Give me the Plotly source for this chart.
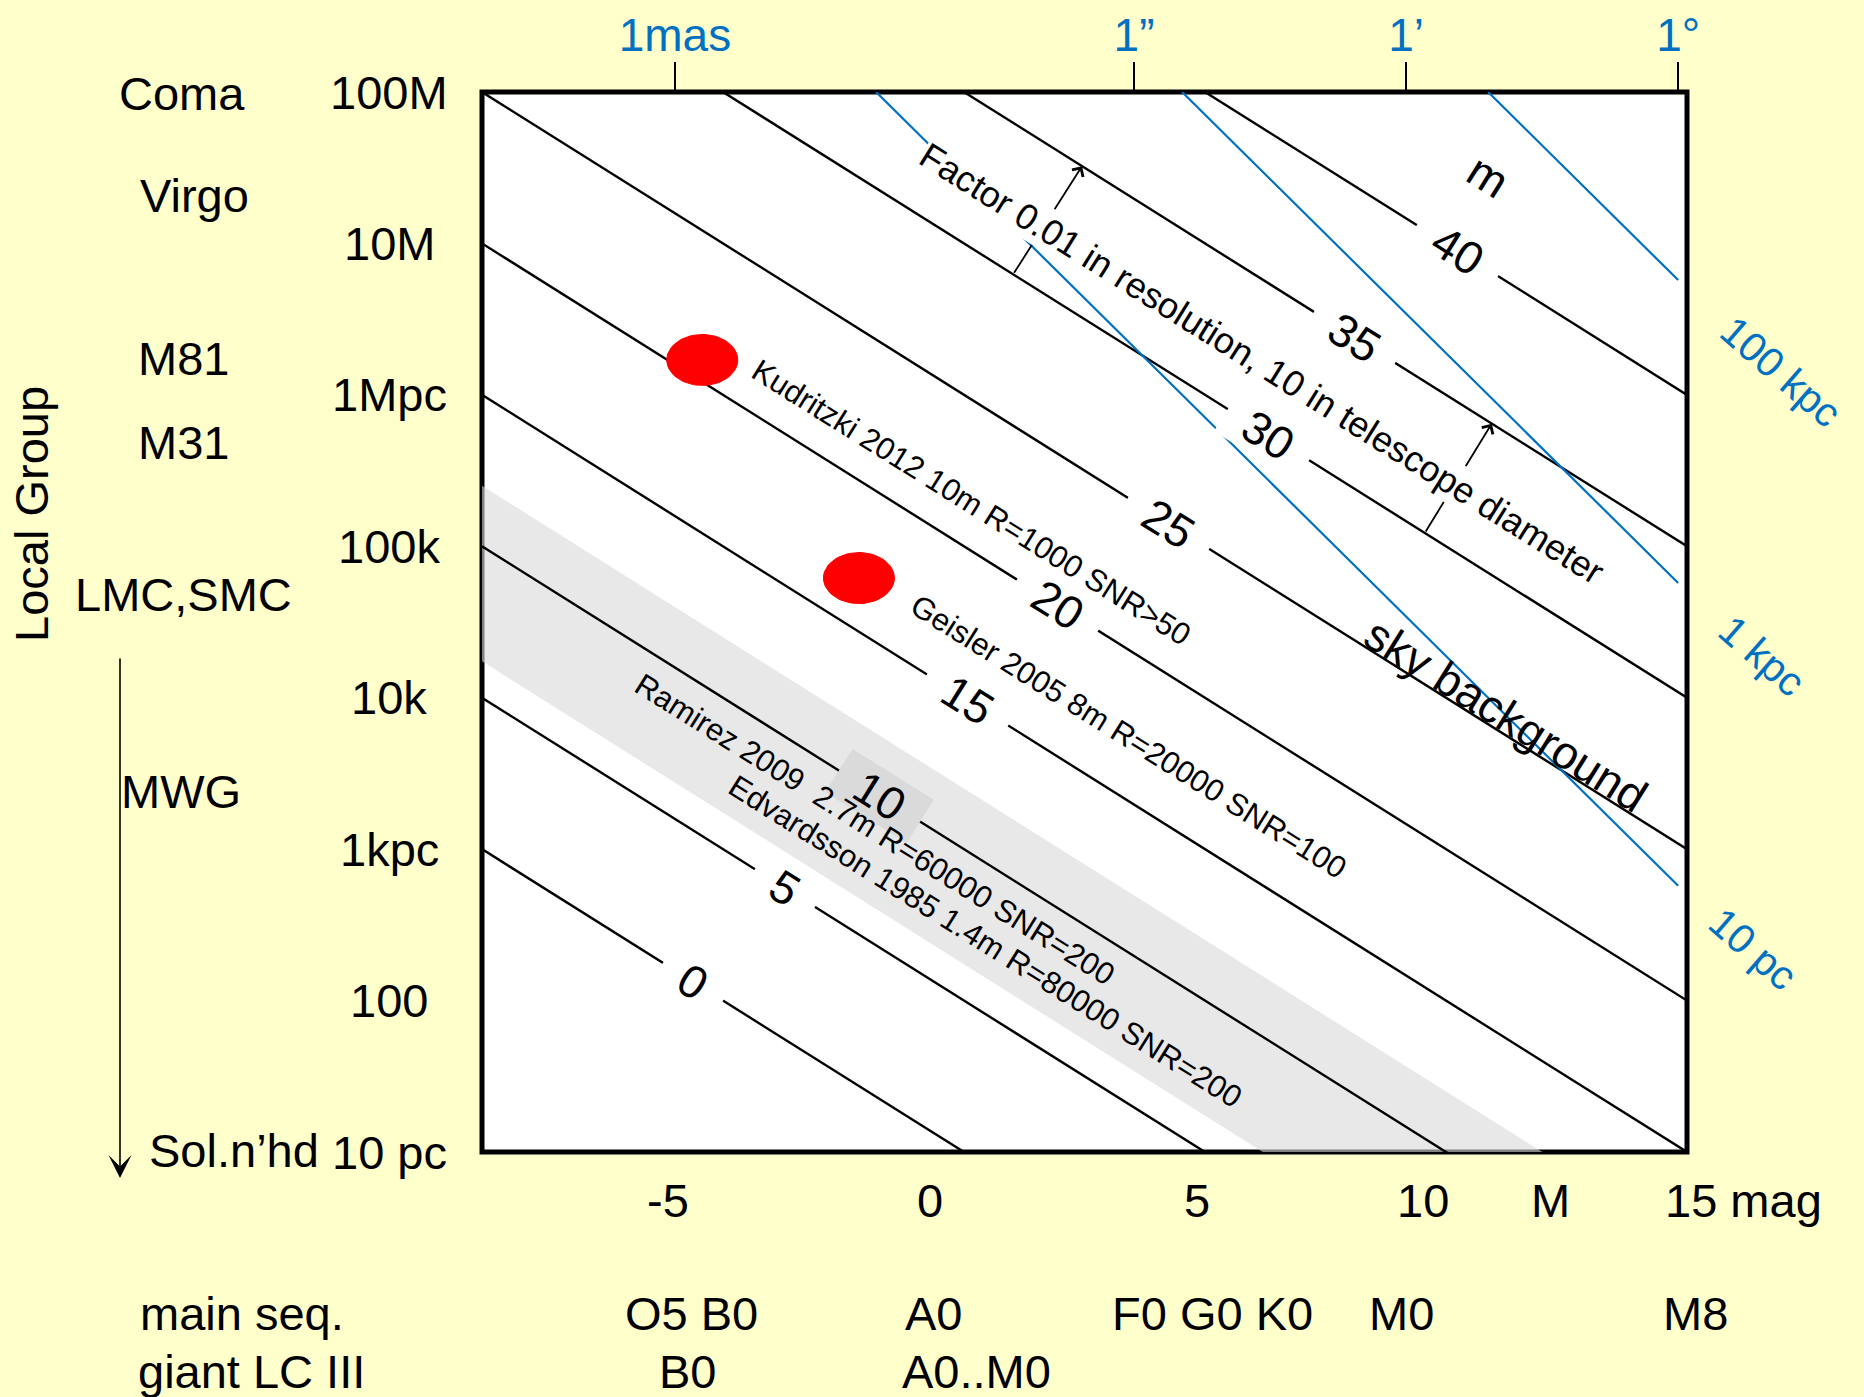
import numpy as np
import plotly.graph_objects as go

# ---------------- figure geometry (pixels) ----------------
W, H = 1864, 1397
BOX_L, BOX_R, BOX_T, BOX_B = 482, 1687, 92, 1152
PW, PH = BOX_R - BOX_L, BOX_B - BOX_T

FONT = "Liberation Sans, Arial, sans-serif"
BLUE = "#0070C0"
PAPER = "#FFFFCC"
ANGLE = 32  # text angle along the iso-magnitude lines

# ---------------- axes ----------------
M_RANGE = [-10, 15]               # absolute magnitude M across the box
LOGD_RANGE = [1, 8]               # log10(distance / pc)
LOGTHETA_RANGE = [-4.261, 3.614]  # log10(angle / arcsec), top scale
ARCSEC_PER_RAD = 206265.0

# ---------------- data ----------------
m_values = [0, 5, 10, 15, 20, 25, 30, 35, 40]          # apparent magnitude lines
m_label_M = [-5.62, -3.72, -1.75, 0.08, 1.95, 4.25, 6.31, 8.11, 10.23]

dist_ticks = [1e1, 1e2, 1e3, 1e4, 1e5, 1e6, 1e7, 1e8]
dist_labels = ["10 pc", "100", "1kpc", "10k", "100k", "1Mpc", "10M", "100M"]

angle_ticks = [1e-3, 1.0, 60.0, 3600.0]
angle_labels = ["1mas", "1”", "1’", "1°"]

size_pc = [10, 1e3, 1e5]                               # linear sizes (blue lines)
size_labels = ["10 pc", "1 kpc", "100 kpc"]
blue_end_arcsec = 3600.0

star_M = [-5.43, -2.18]
star_d = [1.70e6, 6.17e4]
star_labels = ["Kudritzki 2012 10m R=1000 SNR>50", "Geisler 2005 8m R=20000 SNR=100"]

band_m = [6.2, 12.0]
band_labels = ["Ramirez 2009  2.7m R=60000 SNR=200",
               "Edvardsson 1985 1.4m R=80000 SNR=200"]

arrow_m = (30, 35)                                     # factor 10 in diameter = 5 mag
arrow_M = [(1.02, 2.45), (9.56, 10.95)]

mag_labels = ["-5", "0", "5", "10", "M", "15 mag"]
spec_main = ["O5 B0", "A0", "F0 G0 K0", "M0", "M8"]
spec_giant = ["B0", "A0..M0"]
systems = ["Coma", "Virgo", "M81", "M31", "LMC,SMC", "MWG", "Sol.n’hd"]

# ---------------- text placement (pixels) ----------------
mag_label_x = [668, 930, 1197, 1423, 1550, 1743]
mag_label_y = 1200
spec_main_x = [691, 934, 1212, 1401, 1695]
spec_giant_x = [688, 976]
spec_rows_y = [1313, 1371]
system_xy = [(182, 93), (194, 195), (183, 358), (183, 442),
             (183, 594), (181, 791), (234, 1150)]
dist_label_x = 389
star_label_xy = [(971, 503), (1128, 737)]
band_label_xy = [(875, 829), (985, 942)]
size_label_xy = [(1753, 949), (1762, 656), (1781, 372)]


def dist(m, M):
    """distance [pc] from distance modulus m - M"""
    return 10 ** (1 + (np.asarray(m, float) - np.asarray(M, float)) / 5)


def paper(x, y):
    return (x - BOX_L) / PW, (BOX_B - y) / PH


fig = go.Figure()

# grey survey band between two apparent magnitudes
Mb = np.array([-12.0, 17.0])
fig.add_trace(go.Scatter(
    x=[Mb[0], Mb[1], Mb[1], Mb[0], Mb[0]],
    y=[dist(band_m[1], Mb[0]), dist(band_m[1], Mb[1]),
       dist(band_m[0], Mb[1]), dist(band_m[0], Mb[0]), dist(band_m[1], Mb[0])],
    fill="toself", fillcolor="rgba(217,217,217,0.6)",
    line=dict(width=0), mode="lines", hoverinfo="skip", showlegend=False))

# iso apparent-magnitude lines
for m in m_values:
    Ms = np.array(M_RANGE, float)
    fig.add_trace(go.Scatter(x=Ms, y=dist(m, Ms), mode="lines",
                             line=dict(color="black", width=2.4),
                             hoverinfo="skip", showlegend=False))

# constant linear size lines on the angular (top) scale
for s in size_pc:
    d_top = 10 ** LOGD_RANGE[1]
    d_end = ARCSEC_PER_RAD * s / blue_end_arcsec
    ds = np.array([d_top, d_end])
    fig.add_trace(go.Scatter(x=ARCSEC_PER_RAD * s / ds, y=ds, xaxis="x2",
                             mode="lines", line=dict(color=BLUE, width=2.2),
                             hoverinfo="skip", showlegend=False))

# red star markers (elliptical in screen space)
t = np.linspace(0, 2 * np.pi, 73)
rM = 35.5 * (M_RANGE[1] - M_RANGE[0]) / PW
rL = 25.5 * (LOGD_RANGE[1] - LOGD_RANGE[0]) / PH
for M0, d0 in zip(star_M, star_d):
    fig.add_trace(go.Scatter(
        x=M0 + rM * np.cos(t), y=10 ** (np.log10(d0) + rL * np.sin(t)),
        fill="toself", fillcolor="#FF0000", mode="lines",
        line=dict(color="#FF0000", width=1), hoverinfo="skip", showlegend=False))

ann = []


def txt(text, x, y, size=47, color="black", angle=0, xanchor="center", **kw):
    xp, yp = paper(x, y)
    ann.append(dict(text=text, x=xp, y=yp, xref="paper", yref="paper",
                    showarrow=False, xanchor=xanchor, yanchor="middle",
                    textangle=angle, font=dict(family=FONT, size=size, color=color), **kw))


# arrows across the Factor-10 gap (drawn first, text box covers the middle)
for Mt, Mh in arrow_M:
    ann.append(dict(x=Mh, y=float(np.log10(dist(arrow_m[1], Mh))),
                    ax=Mt, ay=float(np.log10(dist(arrow_m[0], Mt))),
                    xref="x", yref="y", axref="x", ayref="y", text="",
                    showarrow=True, arrowhead=4, arrowsize=1.4, arrowwidth=1.8,
                    arrowcolor="black"))

# magnitude labels on the lines
for m, Ml in zip(m_values, m_label_M):
    s = str(m)
    ann.append(dict(text=s, x=Ml, y=float(np.log10(dist(m, Ml))), xref="x", yref="y",
                    showarrow=False, textangle=ANGLE, xanchor="center", yanchor="middle",
                    font=dict(family=FONT, size=46, color="black"),
                    bgcolor="#DADADA" if band_m[0] < m < band_m[1] else "white",
                    borderpad=0, width=len(s) * 0.556 * 46 + 44, height=50))
txt("m", 1488, 176, size=46, angle=ANGLE)

# survey / instrument labels
for lab, (x, y) in zip(star_labels, star_label_xy):
    txt(lab, x, y, size=31, angle=ANGLE)
for lab, (x, y) in zip(band_labels, band_label_xy):
    txt(lab, x, y, size=31, angle=ANGLE)
txt("sky background", 1506, 715, size=46, angle=ANGLE)
txt("Factor 0.01 in resolution, 10 in telescope diameter", 1262, 363, size=36,
    angle=ANGLE, bgcolor="white", borderpad=0)

# blue size labels
for lab, (x, y) in zip(size_labels, size_label_xy):
    txt(lab, x, y, size=41, color=BLUE, angle=41)

# distance labels (left)
for d, lab in zip(dist_ticks, dist_labels):
    ann.append(dict(text=lab, x=paper(dist_label_x, 0)[0], y=float(np.log10(d)),
                    xref="paper", yref="y", showarrow=False, xanchor="center",
                    yanchor="middle", font=dict(family=FONT, size=47, color="black")))

# systems column
for lab, (x, y) in zip(systems, system_xy):
    txt(lab, x, y)
txt("Local Group", 31, 514, angle=-90)
hx, hy = paper(120, 1178)
ann.append(dict(x=hx, y=hy, xref="paper", yref="paper", ax=0, ay=-521,
                axref="pixel", ayref="pixel", text="", showarrow=True,
                arrowhead=3, arrowsize=2.4, arrowwidth=1.6, arrowcolor="black"))

# absolute magnitude labels
for lab, x in zip(mag_labels, mag_label_x):
    txt(lab, x, mag_label_y)

# spectral types
txt("main seq.", 138, spec_rows_y[0], xanchor="left")
txt("giant LC III", 136, spec_rows_y[1], xanchor="left")
for lab, x in zip(spec_main, spec_main_x):
    txt(lab, x, spec_rows_y[0])
for lab, x in zip(spec_giant, spec_giant_x):
    txt(lab, x, spec_rows_y[1])

fig.update_layout(
    width=W, height=H, autosize=False,
    margin=dict(l=BOX_L, r=W - BOX_R, t=BOX_T, b=H - BOX_B, pad=0, autoexpand=False),
    paper_bgcolor=PAPER, plot_bgcolor="white",
    showlegend=False,
    font=dict(family=FONT, color="black"),
    xaxis=dict(range=M_RANGE, showgrid=False, zeroline=False, showline=False,
               showticklabels=False, ticks="", automargin=False),
    yaxis=dict(type="log", range=LOGD_RANGE, showgrid=False, zeroline=False,
               showline=False, showticklabels=False, ticks="", automargin=False),
    xaxis2=dict(type="log", range=LOGTHETA_RANGE, overlaying="x", side="top",
                anchor="y", showgrid=False, zeroline=False, showline=False,
                automargin=False,
                tickmode="array", tickvals=angle_ticks, ticktext=angle_labels,
                ticks="outside", ticklen=29, tickwidth=2, tickcolor="black",
                ticklabelstandoff=-7,
                tickfont=dict(family=FONT, size=46, color=BLUE)),
    shapes=[dict(type="rect", xref="paper", yref="paper", x0=0, x1=1, y0=0, y1=1,
                 line=dict(color="black", width=5), fillcolor="rgba(0,0,0,0)",
                 layer="below")],
    annotations=ann,
)

fig.write_html("out.html")
